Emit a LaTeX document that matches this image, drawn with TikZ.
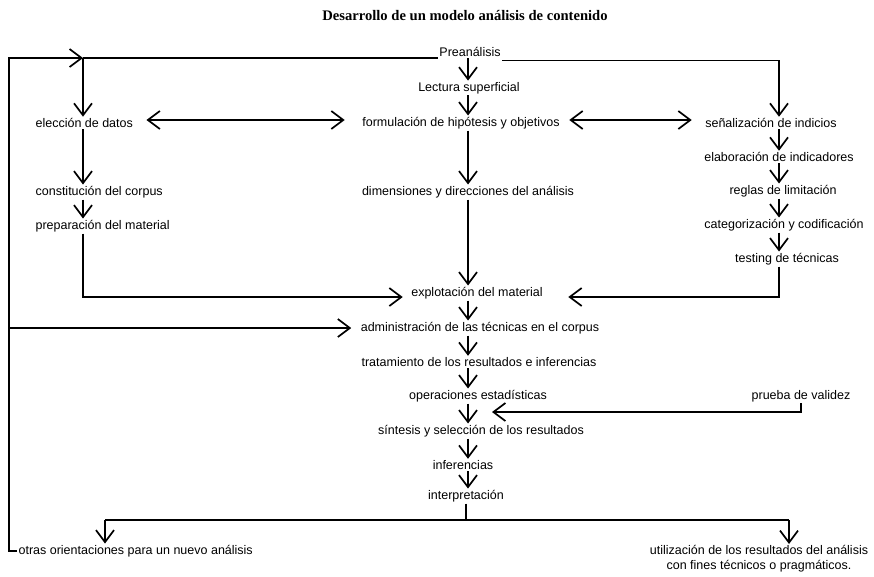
\documentclass[tikz,border=0pt]{standalone}
\usepackage{fontspec}
\setmainfont{Liberation Sans}
\newfontfamily\titulofont{Liberation Serif}
\usetikzlibrary{arrows.meta}

\tikzset{
  paso/.style={inner sep=1pt, font=\fontsize{12.5}{15}\selectfont},
  titulo/.style={inner sep=0pt, font=\titulofont\bfseries\fontsize{14.6}{16}\selectfont},
}

\begin{document}
\begin{tikzpicture}[x=1pt,y=-1pt,line width=1.2pt,
  >={Straight Barb[length=12pt,width=18pt,line width=1.7pt]}]
\useasboundingbox (0,0) rectangle (874,576);

\node[titulo] (tit) at (465,16) {Desarrollo de un modelo análisis de contenido};

\node[paso] (pre) at (470,52) {Preanálisis};
\node[paso] (lec) at (469,88) {Lectura superficial};
\node[paso] (form) at (461,123) {formulación de hipótesis y objetivos};
\node[paso] (dim) at (468,192) {dimensiones y direcciones del análisis};
\node[paso,anchor=west] (elec) at (34,123) {elección de datos};
\node[paso,anchor=west] (cons) at (34,192) {constitución del corpus};
\node[paso,anchor=west] (prep) at (34,226) {preparación del material};
\node[paso] (senal) at (771,123) {señalización de indicios};
\node[paso] (elab) at (779,157) {elaboración de indicadores};
\node[paso] (regl) at (783,191) {reglas de limitación};
\node[paso] (cate) at (784,225) {categorización y codificación};
\node[paso] (test) at (787,259) {testing de técnicas};
\node[paso] (expl) at (477,293) {explotación del material};
\node[paso] (admin) at (480,328) {administración de las técnicas en el corpus};
\node[paso] (trat) at (479,362) {tratamiento de los resultados e inferencias};
\node[paso] (oper) at (478,396) {operaciones estadísticas};
\node[paso] (prueba) at (801,396) {prueba de validez};
\node[paso] (sint) at (481,431) {síntesis y selección de los resultados};
\node[paso] (infer) at (463,465) {inferencias};
\node[paso] (interp) at (466,496) {interpretación};
\node[paso,anchor=west] (otras) at (17,551) {otras orientaciones para un nuevo análisis};
\node[paso,align=center] (util) at (759,559) {utilización de los resultados del análisis\\con fines técnicos o pragmáticos.};

\coordinate (eje) at (468,0);
\coordinate (col1) at (83,0);
\coordinate (col3) at (779,0);
\coordinate (esq) at (9,58);
\coordinate (codo) at (83,58);
\coordinate (val) at (492,412);
\coordinate (rama) at (466,520);
\coordinate (izq) at (105,520);
\coordinate (der) at (789,520);

\draw[->] (otras.west) -| (esq) -- (codo);
\draw (codo) -- (codo -| pre.west);
\draw[->] (codo) -- (codo |- elec.north);
\draw[->] ([yshift=-2pt]pre.south east) -| (senal.north -| col3);

\draw[->] (pre.south -| eje) -- (lec.north -| eje);
\draw[->] (lec.south -| eje) -- (form.north -| eje);
\draw[->] (form.south -| eje) -- (dim.north -| eje);
\draw[->] (dim.south -| eje) -- (expl.north -| eje);
\draw[->] (expl.south -| eje) -- (admin.north -| eje);
\draw[->] (admin.south -| eje) -- (trat.north -| eje);
\draw[->] (trat.south -| eje) -- (oper.north -| eje);
\draw[->] (oper.south -| eje) -- (sint.north -| eje);
\draw[->] (sint.south -| eje) -- (infer.north -| eje);
\draw[->] (infer.south -| eje) -- (interp.north -| eje);

\draw[<->,shorten <=12pt,shorten >=16pt] ([yshift=3pt]elec.east) -- ([yshift=3pt]form.west);
\draw[<->,shorten <=8pt,shorten >=12pt] ([yshift=3pt]form.east) -- ([yshift=3pt]senal.west);

\draw[->] (elec.south -| col1) -- (cons.north -| col1);
\draw[->] (cons.south -| col1) -- (prep.north -| col1);
\draw[->,shorten >=7pt] (prep.south -| col1) |- ([yshift=-4pt]expl.west);

\draw[->] (senal.south -| col3) -- (elab.north -| col3);
\draw[->] (elab.south -| col3) -- (regl.north -| col3);
\draw[->] (regl.south -| col3) -- (cate.north -| col3);
\draw[->] (cate.south -| col3) -- (test.north -| col3);
\draw[->,shorten >=24pt] (test.south -| col3) |- ([yshift=-4pt]expl.east);

\draw[->,shorten >=8pt] (esq |- admin.west) -- (admin.west);
\draw[->] (prueba.south) |- (val);

\draw (interp.south -| rama) -- (rama);
\draw (izq) -- (der);
\draw[->] (izq) -- (izq |- otras.north);
\draw[->] (der) -- (der |- util.north);
\end{tikzpicture}
\end{document}
